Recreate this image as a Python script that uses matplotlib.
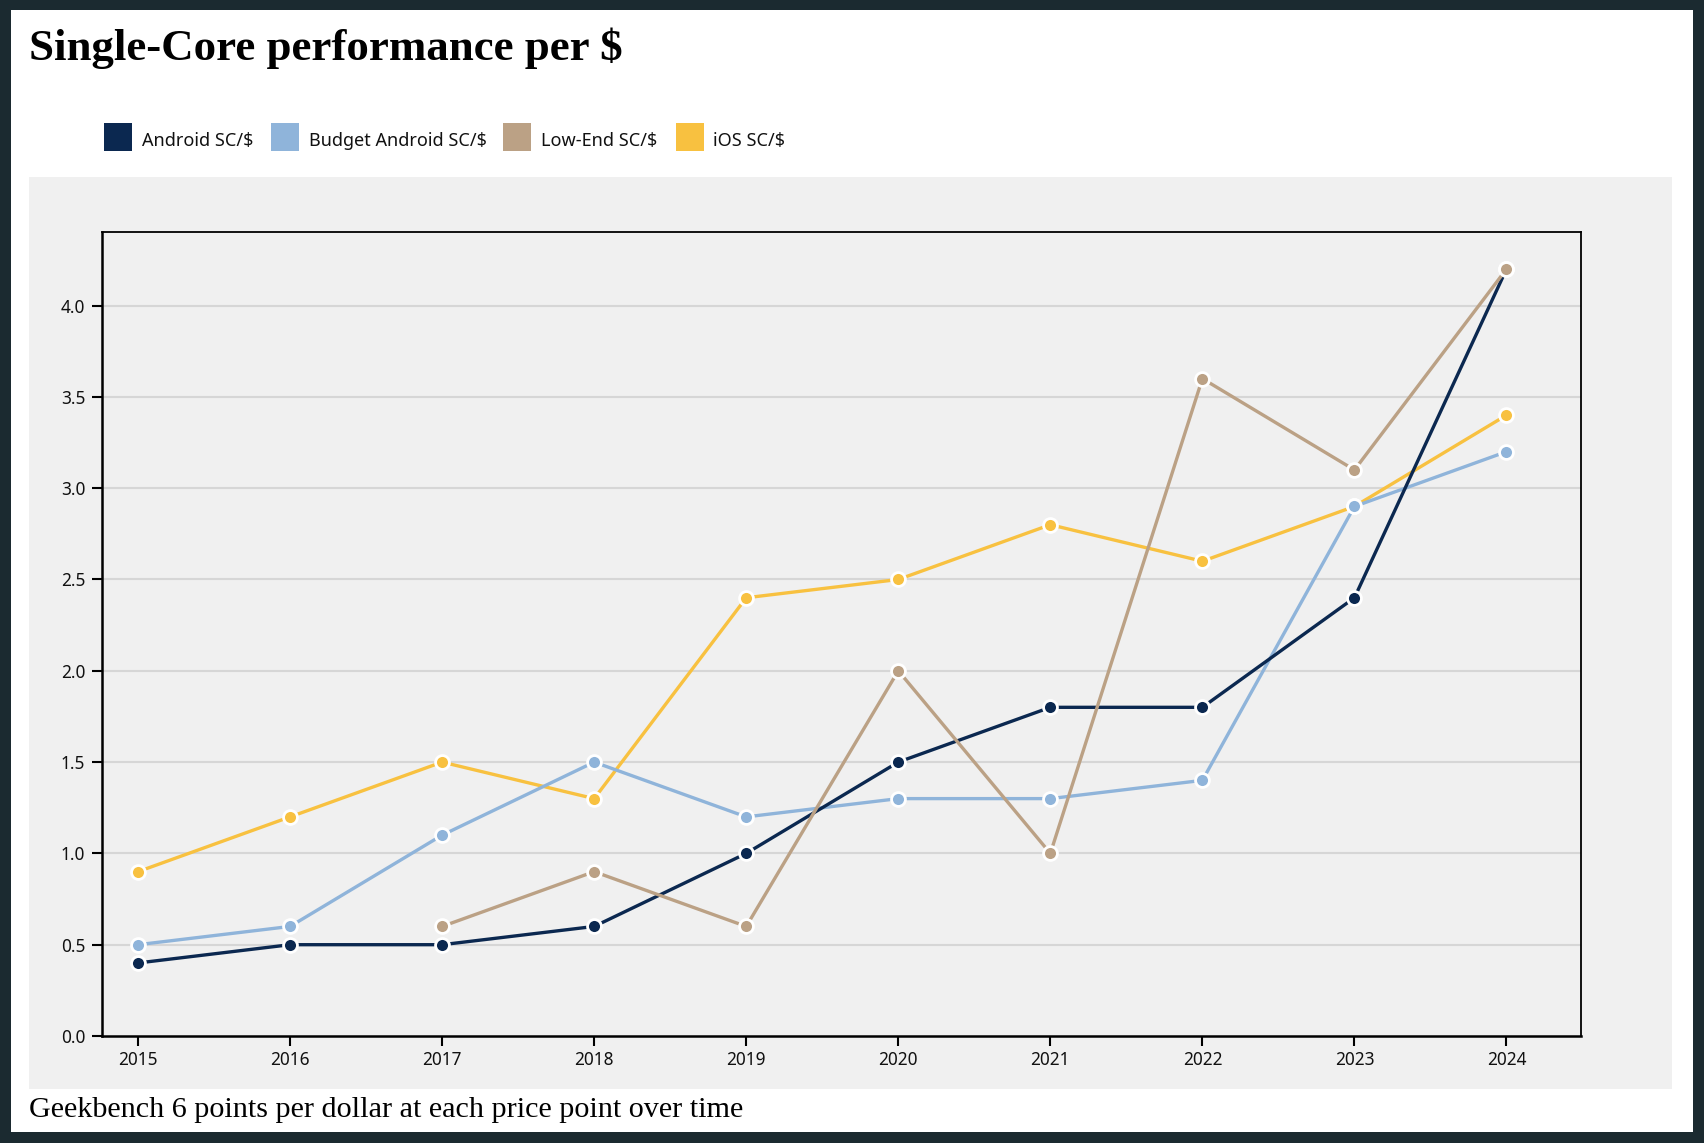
import numpy as np
import matplotlib
matplotlib.use("Agg")
import matplotlib.pyplot as plt
from matplotlib.patches import Rectangle

years = [2015, 2016, 2017, 2018, 2019, 2020, 2021, 2022, 2023, 2024]
android_sc = [0.4, 0.5, 0.5, 0.6, 1.0, 1.5, 1.8, 1.8, 2.4, 4.2]
budget_android_sc = [0.5, 0.6, 1.1, 1.5, 1.2, 1.3, 1.3, 1.4, 2.9, 3.2]
low_end_sc = [np.nan, np.nan, 0.6, 0.9, 0.6, 2.0, 1.0, 3.6, 3.1, 4.2]
ios_sc = [0.9, 1.2, 1.5, 1.3, 2.4, 2.5, 2.8, 2.6, 2.9, 3.4]

series_names = ["Android SC/$", "Budget Android SC/$", "Low-End SC/$", "iOS SC/$"]
series_colors = ["#0b2850", "#8fb4da", "#bba185", "#f8c140"]
y_ticks = [0.0, 0.5, 1.0, 1.5, 2.0, 2.5, 3.0, 3.5, 4.0]

title = "Single-Core performance per $"
caption = "Geekbench 6 points per dollar at each price point over time"

W, H = 1704, 1143
fig = plt.figure(figsize=(W / 100, H / 100), dpi=100)
fig.patch.set_facecolor("#1b2a30")

def fx(px):
    return px / W

def fy(py):
    return 1 - py / H

# white card
fig.add_artist(Rectangle((fx(11), fy(1132)), fx(1693) - fx(11), fy(10) - fy(1132),
                         transform=fig.transFigure, facecolor="white", edgecolor="none", zorder=0))
# gray panel
fig.add_artist(Rectangle((fx(29), fy(1089)), fx(1672) - fx(29), fy(177) - fy(1089),
                         transform=fig.transFigure, facecolor="#f0f0f0", edgecolor="none", zorder=0))

ui_font = ["Noto Sans", "DejaVu Sans"]
serif_font = ["Liberation Serif", "DejaVu Serif"]

fig.text(fx(29), fy(60), title, fontfamily=serif_font, fontweight="bold", fontsize=32.3,
         ha="left", va="baseline", color="black")
fig.text(fx(29), fy(1117), caption, fontfamily=serif_font, fontsize=21.7,
         ha="left", va="baseline", color="black")

# legend
sq_x = [104, 271, 503, 676]
tx_x = [142, 309, 541, 713]
for name, col, sx, tx in zip(series_names, series_colors, sq_x, tx_x):
    fig.add_artist(Rectangle((fx(sx), fy(151)), fx(28), 28 / H, transform=fig.transFigure,
                             facecolor=col, edgecolor="none"))
    fig.text(fx(tx), fy(146), name, fontfamily=ui_font, fontsize=13,
             ha="left", va="baseline", color="#111111")

ax = fig.add_axes([fx(102), fy(1036), fx(1581) - fx(102), fy(232) - fy(1036)])
ax.set_facecolor("#f0f0f0")
ax.set_xlim(2014.763, 2024.49)
ax.set_ylim(0, 4.403)
ax.set_yticks(y_ticks)
ax.set_yticklabels([f"{v:.1f}" for v in y_ticks])
ax.set_xticks(years)
ax.set_xticklabels([str(y) for y in years])
for v in y_ticks[1:]:
    ax.axhline(v, color="#d6d6d6", lw=1.5, zorder=1)

data = [android_sc, budget_android_sc, low_end_sc, ios_sc]
order = [3, 1, 0, 2]  # bottom to top
for z, i in enumerate(order):
    ax.plot(years, data[i], color=series_colors[i], lw=2.4, marker="o", ms=10,
            mfc=series_colors[i], mec="white", mew=2.0, zorder=3 + z)

for s in ax.spines.values():
    s.set_color("black")
    s.set_linewidth(1.3)
    s.set_zorder(10)
ax.spines["left"].set_linewidth(1.8)
ax.spines["bottom"].set_linewidth(1.8)
ax.tick_params(axis="both", length=7, width=1.5, color="black", labelsize=12.4,
               labelcolor="#111111")
ax.tick_params(axis="y", pad=5)
ax.tick_params(axis="x", pad=4)
for lab in ax.get_xticklabels() + ax.get_yticklabels():
    lab.set_fontfamily(ui_font)

fig.savefig("out.png", dpi=100, facecolor=fig.get_facecolor())
